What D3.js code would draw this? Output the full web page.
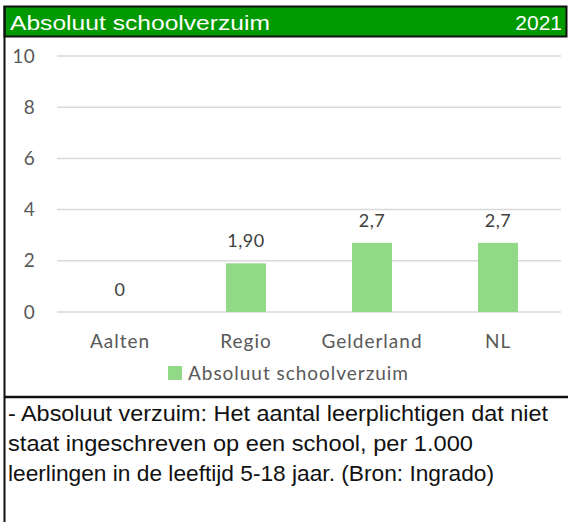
<!DOCTYPE html>
<html><head><meta charset="utf-8">
<script src="https://cdn.jsdelivr.net/npm/d3@7"></script>
<style>html,body{margin:0;padding:0;background:#fff;}svg{display:block;}</style>
</head><body>
<script>
const categories = ["Aalten", "Regio", "Gelderland", "NL"];
const values = [0, 1.9, 2.7, 2.7];
const valueLabels = ["0", "1,90", "2,7", "2,7"];
const yTicks = [0, 2, 4, 6, 8, 10];
const seriesName = "Absoluut schoolverzuim";
const title = "Absoluut schoolverzuim";
const year = "2021";
const noteLines = [
  "- Absoluut verzuim: Het aantal leerplichtigen dat niet",
  "staat ingeschreven op een school, per 1.000",
  "leerlingen in de leeftijd 5-18 jaar. (Bron: Ingrado)"
];

const W = 568, H = 522;
const svg = d3.select("body").append("svg").attr("width", W).attr("height", H);
svg.append("rect").attr("width", W).attr("height", H).attr("fill", "#fff");

// header
svg.append("rect").attr("x", 4.5).attr("y", 6.5).attr("width", 562).attr("height", 30)
  .attr("fill", "#009900").attr("stroke", "#111").attr("stroke-width", 2);
svg.append("text").attr("x", 10).attr("y", 29.5).text(title)
  .attr("font-family", "Liberation Sans, Arial, sans-serif").attr("font-size", 21).attr("fill", "#fff")
  .attr("textLength", 260).attr("lengthAdjust", "spacingAndGlyphs");
svg.append("text").attr("x", 562).attr("y", 29.5).attr("text-anchor", "end").text(year)
  .attr("font-family", "Liberation Sans, Arial, sans-serif").attr("font-size", 21).attr("fill", "#fff");

// borders
svg.append("line").attr("x1", 4.5).attr("x2", 4.5).attr("y1", 6).attr("y2", H).attr("stroke", "#111").attr("stroke-width", 2);
svg.append("line").attr("x1", 4).attr("x2", W).attr("y1", 397).attr("y2", 397).attr("stroke", "#111").attr("stroke-width", 2.5);

const x = d3.scaleBand().domain(categories).range([57, 561]).paddingInner(0.683).paddingOuter(0.3415);
const y = d3.scaleLinear().domain([0, 10]).range([312, 56]);

const font = "Lato, Carlito, Calibri, sans-serif";

// gridlines
svg.append("g").selectAll("line").data(yTicks).join("line")
  .attr("x1", 57).attr("x2", 561).attr("y1", d => y(d)).attr("y2", d => y(d))
  .attr("stroke", "#d9d9d9").attr("stroke-width", 1.5);

// y axis labels
const yAxis = d3.axisLeft(y).tickValues(yTicks).tickSize(0).tickPadding(0);
const gy = svg.append("g").attr("transform", "translate(35,0)").call(yAxis);
gy.select(".domain").remove();
gy.selectAll("text").attr("font-family", font).attr("font-size", 19).attr("fill", "#595959")
  .attr("letter-spacing", 0.3);

// bars
svg.append("g").selectAll("rect").data(categories).join("rect")
  .attr("x", d => x(d)).attr("width", x.bandwidth())
  .attr("y", (d, i) => y(values[i])).attr("height", (d, i) => y(0) - y(values[i]))
  .attr("fill", "#91d987");

// value labels
svg.append("g").selectAll("text").data(categories).join("text")
  .attr("x", d => x(d) + x.bandwidth() / 2).attr("y", (d, i) => y(values[i]) - 16)
  .attr("text-anchor", "middle").text((d, i) => valueLabels[i])
  .attr("font-family", font).attr("font-size", 18).attr("fill", "#404040").attr("letter-spacing", 0.5);

// x axis labels
const xAxis = d3.axisBottom(x).tickSize(0).tickPadding(0);
const gx = svg.append("g").attr("transform", "translate(0,334)").call(xAxis);
gx.select(".domain").remove();
gx.selectAll("text").attr("font-family", font).attr("font-size", 19).attr("fill", "#595959")
  .attr("letter-spacing", 1);

// legend
svg.append("rect").attr("x", 168).attr("y", 366).attr("width", 14).attr("height", 14).attr("fill", "#91d987");
svg.append("text").attr("x", 188).attr("y", 380).text(seriesName)
  .attr("font-family", font).attr("font-size", 19).attr("fill", "#595959")
  .attr("textLength", 220).attr("lengthAdjust", "spacing");

// note
const noteEnds = [548, 473, 494];
svg.append("g").selectAll("text").data(noteLines).join("text")
  .attr("x", 8).attr("y", (d, i) => 421 + i * 30).text(d => d)
  .attr("font-family", "Liberation Sans, Arial, sans-serif").attr("font-size", 21.5).attr("fill", "#111")
  .attr("textLength", (d, i) => noteEnds[i] - 8).attr("lengthAdjust", "spacingAndGlyphs");
</script>
</body></html>
